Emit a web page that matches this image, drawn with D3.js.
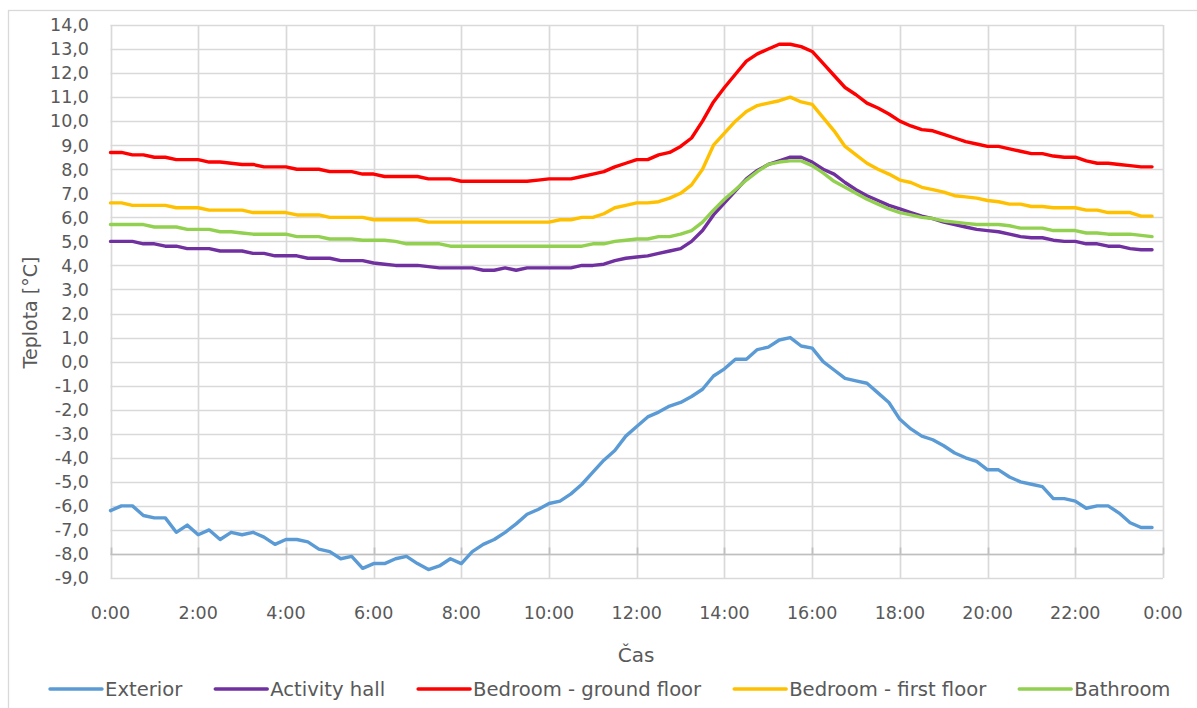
<!DOCTYPE html>
<html>
<head>
<meta charset="utf-8">
<script src="https://cdn.jsdelivr.net/npm/d3@7"></script>
<style>
  html, body { margin: 0; padding: 0; background: #fff; }
  svg { display: block; font-family: "DejaVu Sans", "Open Sans", sans-serif; }
</style>
</head>
<body>
<svg id="chart" width="1197" height="708"></svg>
<script>
// ---- data (15-minute readings, 0:00 .. 23:45) ----
const seriesNames = ["Exterior", "Activity hall", "Bedroom - ground floor", "Bedroom - first floor", "Bathroom"];
const seriesColors = ["#5B9BD5", "#7030A0", "#FF0000", "#FFC000", "#92D050"];

const exterior = [
  -6.2,-6.0,-6.0,-6.4,-6.5,-6.5,-7.1,-6.8,-7.2,-7.0,-7.4,-7.1,-7.2,-7.1,-7.3,-7.6,
  -7.4,-7.4,-7.5,-7.8,-7.9,-8.2,-8.1,-8.6,-8.4,-8.4,-8.2,-8.1,-8.4,-8.65,-8.5,-8.2,
  -8.4,-7.9,-7.6,-7.4,-7.1,-6.75,-6.35,-6.15,-5.9,-5.8,-5.5,-5.1,-4.6,-4.1,-3.7,-3.1,
  -2.7,-2.3,-2.1,-1.85,-1.7,-1.45,-1.15,-0.6,-0.3,0.1,0.1,0.5,0.6,0.9,1.0,0.65,
  0.56,0.0,-0.35,-0.7,-0.8,-0.9,-1.3,-1.7,-2.4,-2.8,-3.1,-3.25,-3.5,-3.8,-4.0,-4.15,
  -4.5,-4.5,-4.8,-5.0,-5.1,-5.2,-5.7,-5.7,-5.8,-6.1,-6.0,-6.0,-6.3,-6.7,-6.9,-6.9
];
const activityHall = [
  5.0,5.0,5.0,4.9,4.9,4.8,4.8,4.7,4.7,4.7,4.6,4.6,4.6,4.5,4.5,4.4,
  4.4,4.4,4.3,4.3,4.3,4.2,4.2,4.2,4.1,4.05,4.0,4.0,4.0,3.95,3.9,3.9,
  3.9,3.9,3.8,3.8,3.9,3.8,3.9,3.9,3.9,3.9,3.9,4.0,4.0,4.05,4.2,4.3,
  4.35,4.4,4.5,4.6,4.7,5.0,5.45,6.1,6.6,7.1,7.6,7.95,8.2,8.35,8.5,8.5,
  8.3,8.0,7.8,7.45,7.15,6.9,6.7,6.5,6.35,6.2,6.05,5.95,5.8,5.7,5.6,5.5,
  5.45,5.4,5.3,5.2,5.15,5.15,5.05,5.0,5.0,4.9,4.9,4.8,4.8,4.7,4.65,4.65
];
const bedroomGround = [
  8.7,8.7,8.6,8.6,8.5,8.5,8.4,8.4,8.4,8.3,8.3,8.25,8.2,8.2,8.1,8.1,
  8.1,8.0,8.0,8.0,7.9,7.9,7.9,7.8,7.8,7.7,7.7,7.7,7.7,7.6,7.6,7.6,
  7.5,7.5,7.5,7.5,7.5,7.5,7.5,7.55,7.6,7.6,7.6,7.7,7.8,7.9,8.1,8.25,
  8.4,8.4,8.6,8.7,8.95,9.3,10.0,10.8,11.4,11.95,12.5,12.8,13.0,13.2,13.2,13.1,
  12.9,12.4,11.9,11.4,11.1,10.75,10.55,10.3,10.0,9.8,9.65,9.6,9.45,9.3,9.15,9.05,
  8.95,8.95,8.85,8.75,8.65,8.65,8.55,8.5,8.5,8.35,8.25,8.25,8.2,8.15,8.1,8.1
];
const bedroomFirst = [
  6.6,6.6,6.5,6.5,6.5,6.5,6.4,6.4,6.4,6.3,6.3,6.3,6.3,6.2,6.2,6.2,
  6.2,6.1,6.1,6.1,6.0,6.0,6.0,6.0,5.9,5.9,5.9,5.9,5.9,5.8,5.8,5.8,
  5.8,5.8,5.8,5.8,5.8,5.8,5.8,5.8,5.8,5.9,5.9,6.0,6.0,6.15,6.4,6.5,
  6.6,6.6,6.65,6.8,7.0,7.35,8.0,9.0,9.5,10.0,10.4,10.65,10.75,10.85,11.0,10.8,
  10.7,10.15,9.6,8.95,8.6,8.25,8.0,7.8,7.55,7.45,7.25,7.15,7.05,6.9,6.85,6.8,
  6.7,6.65,6.55,6.55,6.45,6.45,6.4,6.4,6.4,6.3,6.3,6.2,6.2,6.2,6.05,6.05
];
const bathroom = [
  5.7,5.7,5.7,5.7,5.6,5.6,5.6,5.5,5.5,5.5,5.4,5.4,5.35,5.3,5.3,5.3,
  5.3,5.2,5.2,5.2,5.1,5.1,5.1,5.05,5.05,5.05,5.0,4.9,4.9,4.9,4.9,4.8,
  4.8,4.8,4.8,4.8,4.8,4.8,4.8,4.8,4.8,4.8,4.8,4.8,4.9,4.9,5.0,5.05,
  5.1,5.1,5.2,5.2,5.3,5.45,5.8,6.3,6.75,7.15,7.55,7.9,8.2,8.3,8.35,8.35,
  8.15,7.85,7.5,7.25,7.0,6.75,6.55,6.35,6.2,6.1,6.0,5.95,5.85,5.8,5.75,5.7,
  5.7,5.7,5.65,5.55,5.55,5.55,5.45,5.45,5.45,5.35,5.35,5.3,5.3,5.3,5.25,5.2
];
const xTickHours = [0, 2, 4, 6, 8, 10, 12, 14, 16, 18, 20, 22, 24];
const xTickLabels = ["0:00","2:00","4:00","6:00","8:00","10:00","12:00","14:00","16:00","18:00","20:00","22:00","0:00"];
const yTicks = d3.range(-9, 15, 1);

const allSeries = [exterior, activityHall, bedroomGround, bedroomFirst, bathroom];

// ---- layout ----
const W = 1197, H = 708;
const plot = { left: 110.5, right: 1163, top: 25, bottom: 578 };
const textColor = "#595959";
const gridColor = "#d9d9d9";

const svg = d3.select("#chart");
svg.append("rect").attr("width", W).attr("height", H).attr("fill", "#fff");
svg.append("rect").attr("x", 8.5).attr("y", 10.5).attr("width", W + 10).attr("height", H + 10)
  .attr("fill", "none").attr("stroke", gridColor).attr("stroke-width", 1.3);

const x = d3.scaleLinear().domain([0, 24]).range([plot.left, plot.right]);
const y = d3.scaleLinear().domain([-9, 14]).range([plot.bottom, plot.top]);

// gridlines
const grid = svg.append("g");
grid.selectAll("line.h").data(yTicks).join("line")
  .attr("x1", plot.left).attr("x2", plot.right)
  .attr("y1", d => Math.round(y(d)) + 0.5).attr("y2", d => Math.round(y(d)) + 0.5)
  .attr("stroke", gridColor).attr("stroke-width", 1.7);
grid.selectAll("line.v").data(xTickHours).join("line")
  .attr("x1", d => Math.round(x(d)) + 0.5).attr("x2", d => Math.round(x(d)) + 0.5)
  .attr("y1", plot.top).attr("y2", plot.bottom)
  .attr("stroke", gridColor).attr("stroke-width", 1.7);

// horizontal axis line (crossing at -8) with tick marks
const axY = Math.round(y(-8)) + 0.5;
svg.append("line").attr("x1", plot.left).attr("x2", plot.right)
  .attr("y1", axY).attr("y2", axY).attr("stroke", "#bfbfbf").attr("stroke-width", 1.7);
svg.append("g").selectAll("line").data(xTickHours).join("line")
  .attr("x1", d => Math.round(x(d)) + 0.5).attr("x2", d => Math.round(x(d)) + 0.5)
  .attr("y1", axY - 7).attr("y2", axY)
  .attr("stroke", "#bfbfbf").attr("stroke-width", 1.7);

// y tick labels
const fmt = v => v.toFixed(1).replace(".", ",");
svg.append("g").selectAll("text").data(yTicks).join("text")
  .attr("x", 89).attr("y", d => y(d)).attr("dy", "0.36em")
  .attr("text-anchor", "end").attr("font-size", 17.5).attr("fill", textColor)
  .text(d => fmt(d));

// x tick labels
svg.append("g").selectAll("text").data(xTickHours).join("text")
  .attr("x", d => x(d)).attr("y", 619)
  .attr("text-anchor", "middle").attr("font-size", 17.5).attr("fill", textColor)
  .text((d, i) => xTickLabels[i]);

// axis titles
svg.append("text").attr("transform", `translate(37,${(plot.top + plot.bottom) / 2 + 11}) rotate(-90)`)
  .attr("text-anchor", "middle").attr("font-size", 19).attr("fill", textColor)
  .text("Teplota [°C]");
svg.append("text").attr("x", 636).attr("y", 662)
  .attr("text-anchor", "middle").attr("font-size", 20).attr("fill", textColor)
  .text("Čas");

// lines
const line = d3.line().x((d, i) => x(i * 0.25)).y(d => y(d));
svg.append("g").selectAll("path").data(allSeries).join("path")
  .attr("d", d => line(d))
  .attr("fill", "none")
  .attr("stroke", (d, i) => seriesColors[i])
  .attr("stroke-width", 3.4)
  .attr("stroke-linejoin", "round")
  .attr("stroke-linecap", "round");

// legend
const leg = svg.append("g");
let lx = 50;
const ly = 689;
seriesNames.forEach((name, i) => {
  leg.append("line").attr("x1", lx).attr("x2", lx + 52).attr("y1", ly).attr("y2", ly)
    .attr("stroke", seriesColors[i]).attr("stroke-width", 3.4).attr("stroke-linecap", "round");
  const t = leg.append("text").attr("x", lx + 55).attr("y", ly).attr("dy", "0.36em")
    .attr("font-size", 19.6).attr("fill", textColor).text(name);
  lx += 55 + t.node().getComputedTextLength() + 33;
});
</script>
</body>
</html>
